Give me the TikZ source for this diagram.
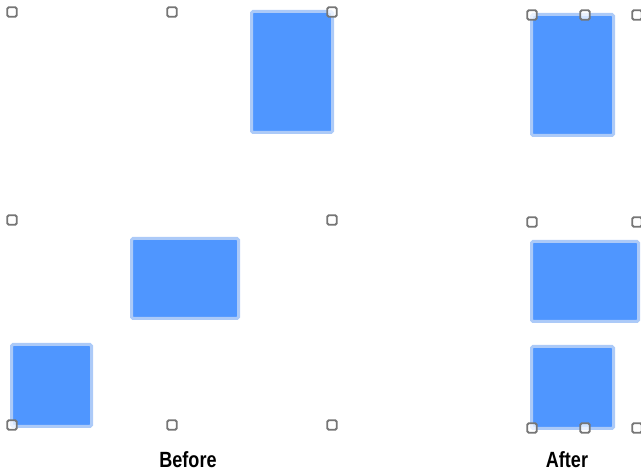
\documentclass[tikz,border=0pt]{standalone}
\usepackage{fontspec}
\newfontfamily\capfont[FakeStretch=0.82]{Liberation Sans}
\usepackage{tikz}
\usetikzlibrary{positioning}
\definecolor{shapeblue}{RGB}{79,150,255}
\definecolor{shapeedge}{RGB}{172,202,248}
\definecolor{handlegray}{RGB}{118,118,118}

\begin{document}
\begin{tikzpicture}[x=1pt, y=-1pt,
  shapebox/.style={rectangle, draw=shapeedge, fill=shapeblue, line width=3pt, rounded corners=1.5pt, inner sep=0pt},
  handle/.style={rectangle, draw=handlegray, fill=white, fill opacity=0.75, line width=1.9pt, rounded corners=1.5pt, minimum size=9.5pt, inner sep=0pt},
  caption/.style={font=\capfont\bfseries\fontsize{22}{24}\selectfont, inner sep=0pt}
]
  \useasboundingbox (0,0) rectangle (641,473);

  % Before, top
  \node[shapebox, minimum width=81pt, minimum height=121pt] (bt) at (292,72) {};
  \node[handle] (bt1) at (12,12) {};
  \node[handle] (bt2) at (172,12) {};
  \node[handle] (bt3) at (332,12) {};

  % Before, bottom
  \node[shapebox, minimum width=107pt, minimum height=80pt] (bb1) at (185,278.5) {};
  \node[shapebox, minimum width=80pt, minimum height=82pt] (bb2) at (51.5,385.5) {};
  \node[handle] (bb3) at (12,220) {};
  \node[handle] (bb4) at (332,220) {};
  \node[handle] (bb5) at (12,425) {};
  \node[handle] (bb6) at (172,425) {};
  \node[handle] (bb7) at (332,425) {};

  % After, top
  \node[shapebox, minimum width=82pt, minimum height=121pt] (at) at (572.5,75) {};
  \node[handle] (at1) at (532,15) {};
  \node[handle] (at2) at (585,15) {};
  \node[handle] (at3) at (637,15) {};

  % After, bottom
  \node[shapebox, minimum width=107pt, minimum height=80pt] (ab1) at (585,281.5) {};
  \node[shapebox, minimum width=82pt, minimum height=82pt] (ab2) at (572.5,387.5) {};
  \node[handle] (ab3) at (532,222) {};
  \node[handle] (ab4) at (637,222) {};
  \node[handle] (ab5) at (532,428) {};
  \node[handle] (ab6) at (585,428) {};
  \node[handle] (ab7) at (637,428) {};

  % Captions
  \node[caption] (before) at (188,460) {Before};
  \node[caption] (after) at (567,460) {After};
\end{tikzpicture}
\end{document}
